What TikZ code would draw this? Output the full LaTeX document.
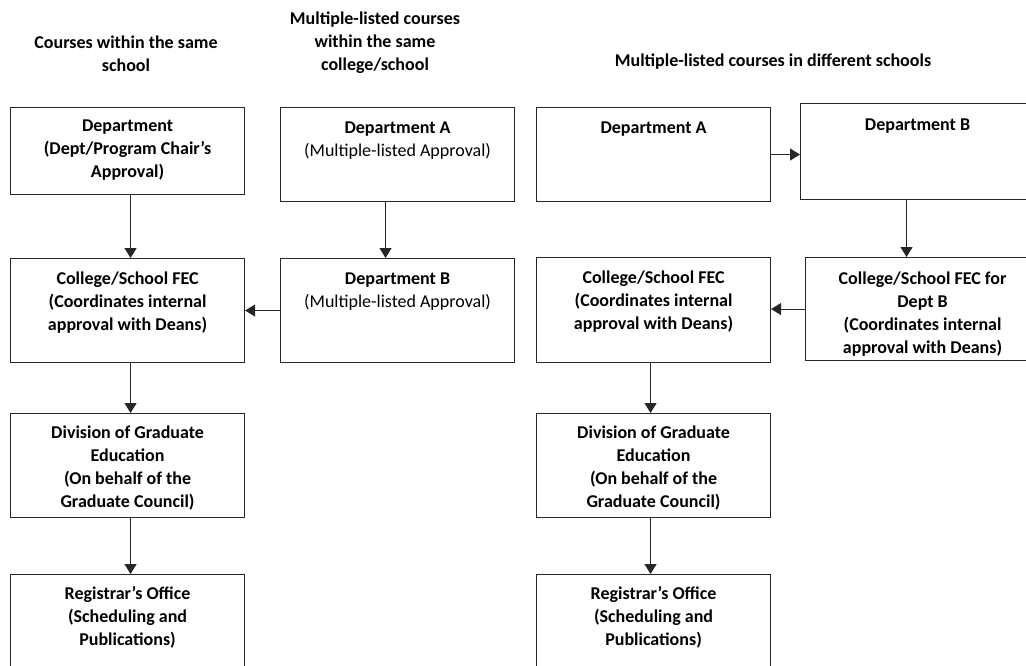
\documentclass[tikz,border=0pt]{standalone}
\usepackage{fontspec}
\setmainfont{Carlito}
\usetikzlibrary{arrows.meta}
\newcommand{\boxtext}[3]{\parbox[t][#1pt][t]{234pt}{\fontsize{18}{23}\selectfont\centering\rule{0pt}{#2pt}#3}}
\newcommand{\titletext}[2]{\parbox[t]{400pt}{\fontsize{18}{23}\selectfont\bfseries\centering\rule{0pt}{#1pt}#2}}
\begin{document}
\begin{tikzpicture}[x=1pt,y=-1pt,
  box/.style={draw=black!85, line width=1.1pt, inner sep=0pt, anchor=north west},
  arr/.style={draw=black!85, line width=1.1pt, -{Triangle[length=10pt,width=12pt]}},
  ttl/.style={inner sep=0pt, anchor=north}]
\useasboundingbox (0,0) rectangle (1026,665);
\clip (0,0) rectangle (1026,665);
\fill[white] (0,0) rectangle (1026,665);
% titles
\node[ttl] (t1) at (126,0) {\titletext{48}{Courses within the same\\school}};
\node[ttl] (t2) at (375,0) {\titletext{24}{Multiple-listed courses\\within the same\\college/school}};
\node[ttl] (t3) at (773,0) {\titletext{66}{Multiple-listed courses in different schools}};
% left column
\node[box] (d1) at (10,107) {\boxtext{87}{24}{\bfseries Department\\(Dept/Program Chair’s\\Approval)}};
\node[box] (f1) at (10,258) {\boxtext{104}{26}{\bfseries College/School FEC\\(Coordinates internal\\approval with Deans)}};
\node[box] (g1) at (10,413) {\boxtext{104}{25}{\bfseries Division of Graduate\\Education\\(On behalf of the\\Graduate Council)}};
\node[box] (r1) at (10,574) {\boxtext{110}{25}{\bfseries Registrar’s Office\\(Scheduling and\\Publications)}};
% middle column
\node[box] (mA) at (280,107) {\boxtext{94}{26}{\textbf{Department A}\\(Multiple-listed Approval)}};
\node[box] (mB) at (280,258) {\boxtext{104}{26}{\textbf{Department B}\\(Multiple-listed Approval)}};
% right group
\node[box] (rA) at (536,107) {\boxtext{94}{26}{\bfseries Department A}};
\node[box] (rB) at (800,103) {\boxtext{96}{27}{\bfseries Department B}};
\node[box] (rF) at (536,257) {\boxtext{105}{26}{\bfseries College/School FEC\\(Coordinates internal\\approval with Deans)}};
\node[box] (rFB) at (805,257) {\boxtext{103}{27}{\bfseries College/School FEC for\\Dept B\\(Coordinates internal\\approval with Deans)}};
\node[box] (rG) at (536,413) {\boxtext{104}{25}{\bfseries Division of Graduate\\Education\\(On behalf of the\\Graduate Council)}};
\node[box] (rR) at (536,574) {\boxtext{110}{25}{\bfseries Registrar’s Office\\(Scheduling and\\Publications)}};
% connectors
\draw[arr] ([xshift=3pt]d1.south) -- ([xshift=3pt]d1.south |- f1.north);
\draw[arr] ([xshift=3pt]f1.south) -- ([xshift=3pt]f1.south |- g1.north);
\draw[arr] ([xshift=3pt]g1.south) -- ([xshift=3pt]g1.south |- r1.north);
\draw[arr] ([xshift=-12pt]mA.south) -- ([xshift=-12pt]mA.south |- mB.north);
\draw[arr] (mB.west) -- (mB.west -| f1.east);
\draw[arr] (rA.east) -- (rA.east -| rB.west);
\draw[arr] ([xshift=-11pt]rB.south) -- ([xshift=-11pt]rB.south |- rFB.north);
\draw[arr] (rFB.west) -- (rFB.west -| rF.east);
\draw[arr] ([xshift=-3pt]rF.south) -- ([xshift=-3pt]rF.south |- rG.north);
\draw[arr] ([xshift=-3pt]rG.south) -- ([xshift=-3pt]rG.south |- rR.north);
\end{tikzpicture}
\end{document}
